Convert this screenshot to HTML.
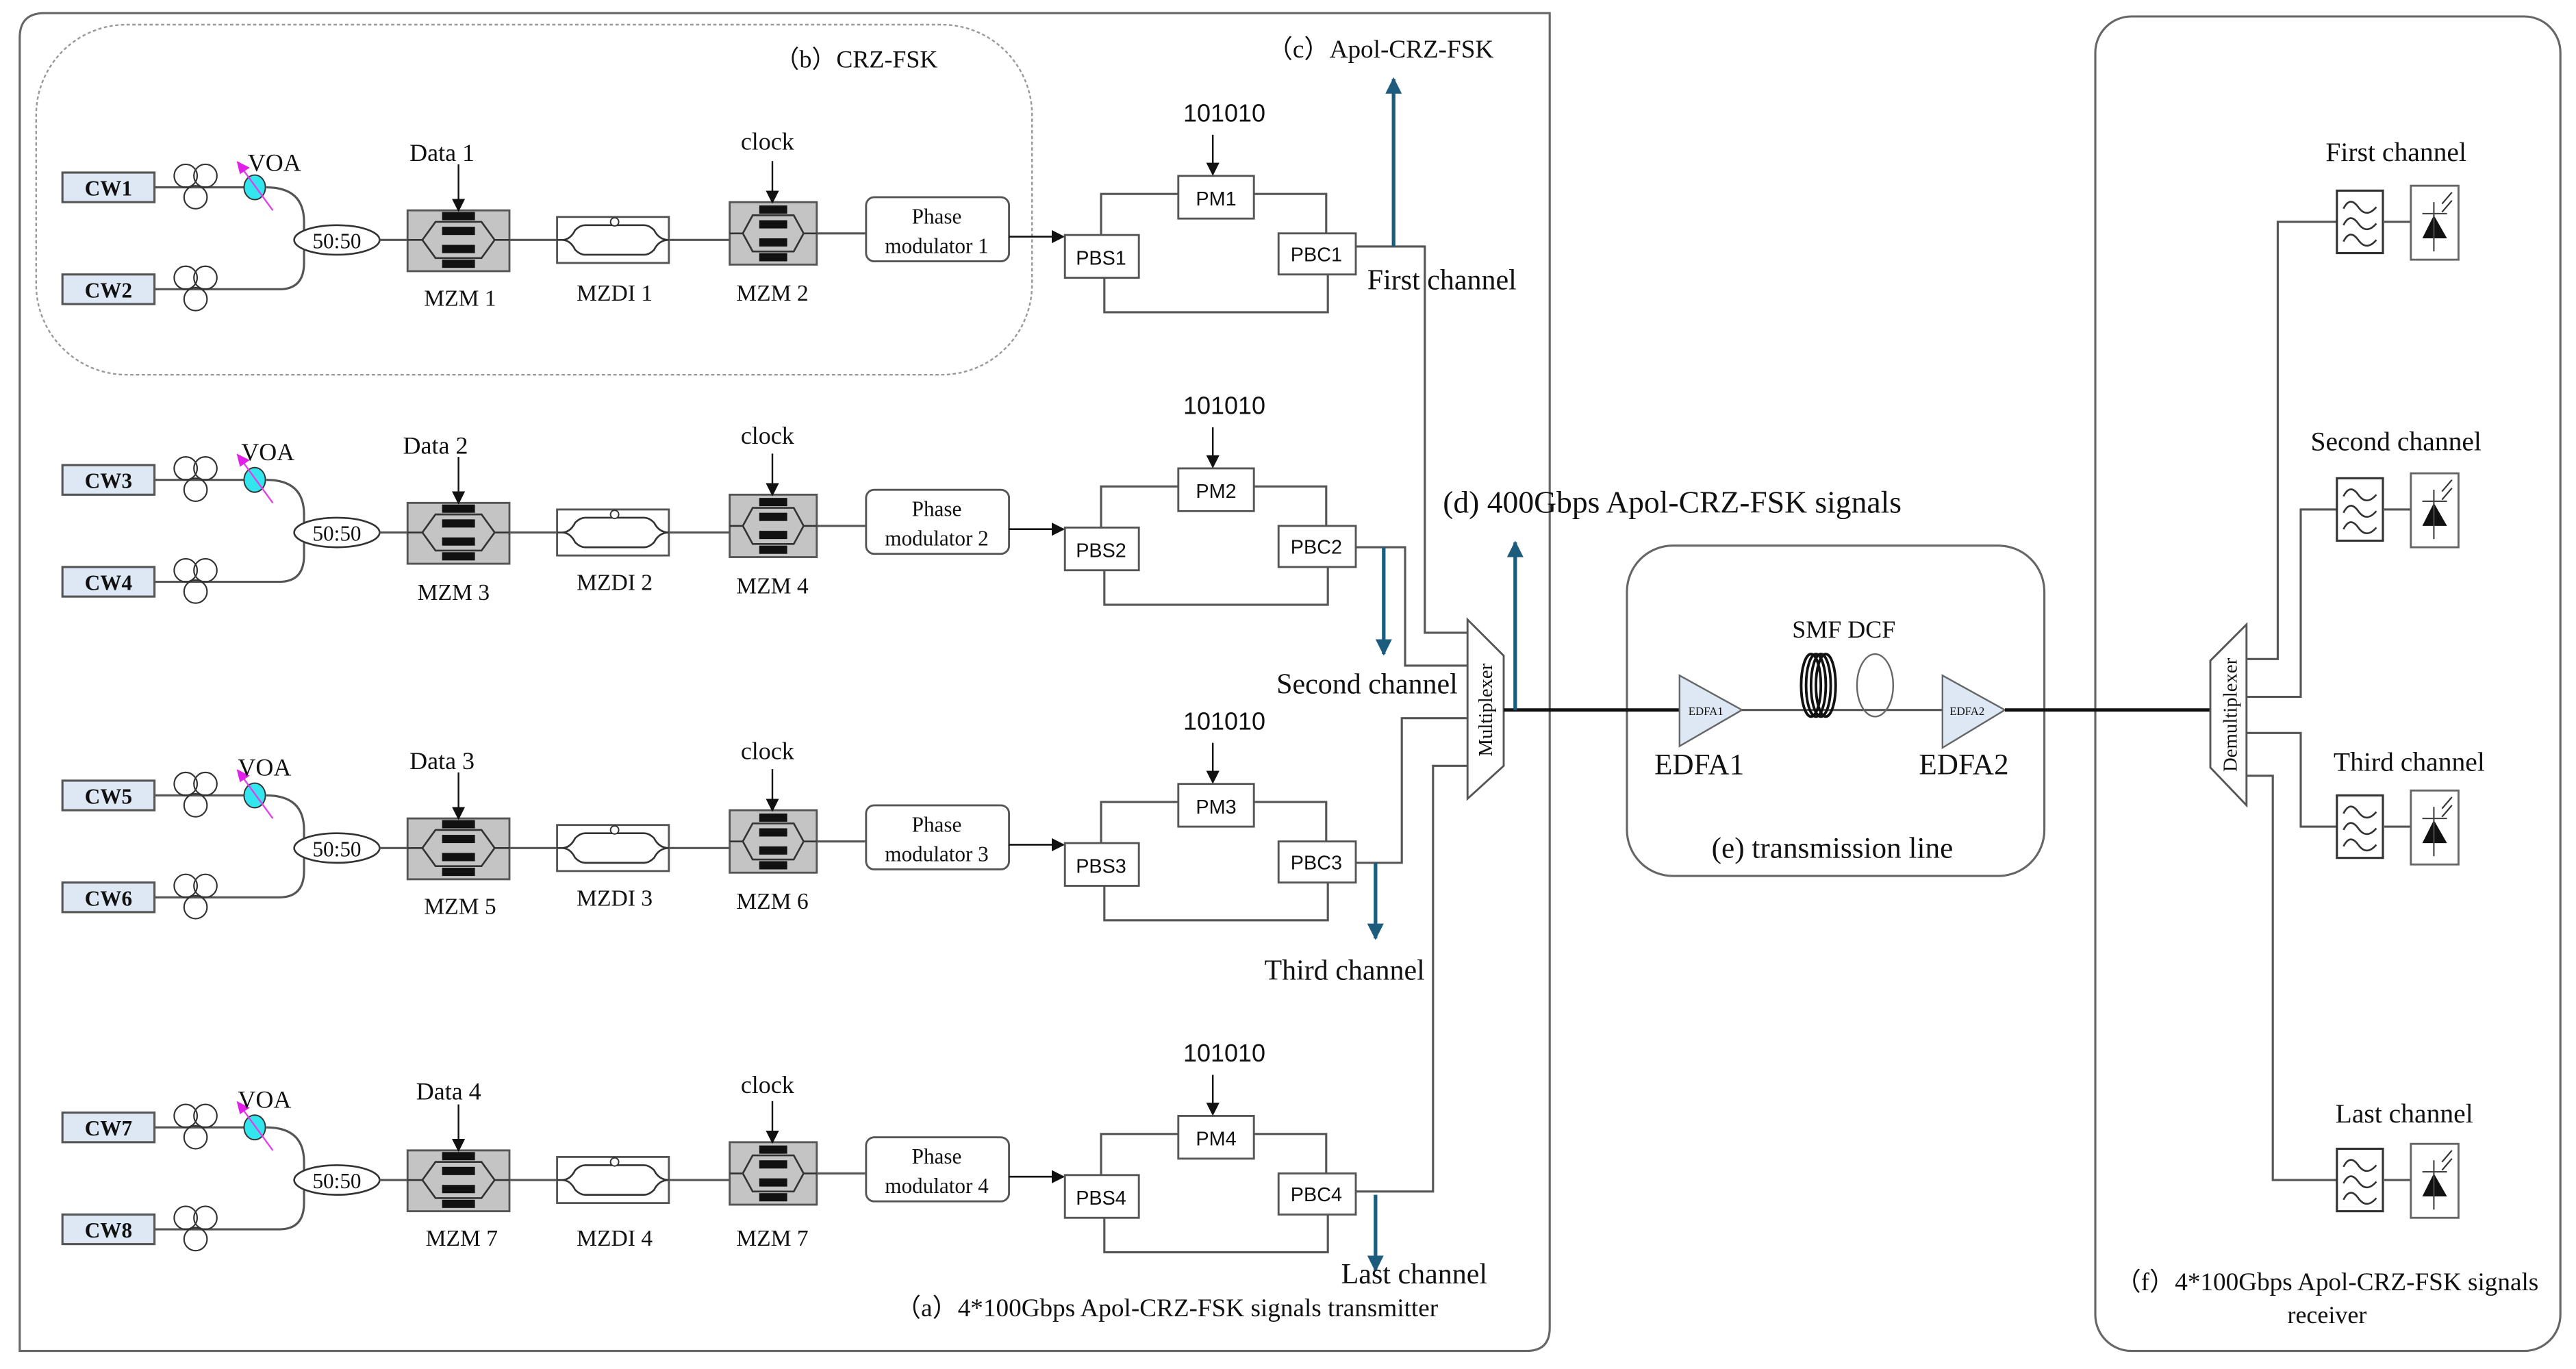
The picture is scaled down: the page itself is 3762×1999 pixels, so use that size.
<!DOCTYPE html>
<html><head><meta charset="utf-8"><style>
html,body{margin:0;padding:0;background:#fff;}
svg{display:block;}
.s{font-family:"Liberation Serif",serif;fill:#111;}
.a{font-family:"Liberation Sans",sans-serif;fill:#111;}
.ln{stroke:#555;stroke-width:1.3;fill:none;}
.bk{stroke:#333;stroke-width:1.1;fill:none;}
</style></head><body>
<svg width="3762" height="1999" viewBox="0 0 1567.5 833" preserveAspectRatio="none" xmlns="http://www.w3.org/2000/svg">
<defs>
<marker id="ah" markerWidth="8" markerHeight="8" refX="7" refY="4" orient="auto" markerUnits="userSpaceOnUse"><path d="M0,0 L8,4 L0,8 z" fill="#111"/></marker>
<marker id="bh" markerWidth="10" markerHeight="10" refX="9" refY="5" orient="auto" markerUnits="userSpaceOnUse"><path d="M0,0 L10,5 L0,10 z" fill="#1c5d7e"/></marker>
<g id="row">
  <rect x="38" y="105" width="56" height="18" fill="#dde8f4" stroke="#555" stroke-width="1.3"/>
  <rect x="38" y="167" width="56" height="18" fill="#dde8f4" stroke="#555" stroke-width="1.3"/>
  <path class="ln" d="M94,114 L150,114"/>
  <path class="ln" d="M94,176 L170,176 Q185,176 185,160 L185,135 Q185,114 162,114"/>
  <circle cx="113" cy="107" r="7" fill="none" stroke="#333" stroke-width="0.9"/>
  <circle cx="125" cy="107" r="7" fill="none" stroke="#333" stroke-width="0.9"/>
  <circle cx="119" cy="120" r="7" fill="none" stroke="#333" stroke-width="0.9"/>
  <circle cx="113" cy="169" r="7" fill="none" stroke="#333" stroke-width="0.9"/>
  <circle cx="125" cy="169" r="7" fill="none" stroke="#333" stroke-width="0.9"/>
  <circle cx="119" cy="182" r="7" fill="none" stroke="#333" stroke-width="0.9"/>
  <ellipse cx="155" cy="114" rx="6.5" ry="7.5" fill="#33e6ee" stroke="#333" stroke-width="0.8"/>
  <path d="M166,128 L147,102" stroke="#e040e8" stroke-width="1"/>
  <path d="M144,98 L152,102 L146,106 z" fill="#e020e8"/>
  <ellipse cx="205" cy="146" rx="26" ry="9" fill="#fff" stroke="#333" stroke-width="1.1"/>
  <path class="ln" d="M231,146 L248,146"/>
  <rect x="248" y="128" width="62" height="37" fill="#c4c4c4" stroke="#555" stroke-width="1.2"/>
  <path class="bk" d="M248,146 L257,146 L265,135 L293,135 L301,146 L310,146 M257,146 L265,157 L293,157 L301,146"/>
  <rect x="269" y="129" width="20" height="5" fill="#111"/><rect x="269" y="138" width="20" height="5" fill="#111"/>
  <rect x="269" y="149" width="20" height="5" fill="#111"/><rect x="269" y="158" width="20" height="5" fill="#111"/>
  <path d="M279,100 L279,128" stroke="#111" stroke-width="1" marker-end="url(#ah)"/>
  <path class="ln" d="M310,146 L339,146"/>
  <rect x="339" y="132" width="68" height="28" fill="#fff" stroke="#555" stroke-width="1.2"/>
  <path class="bk" d="M339,146 L342,146 Q347,146 350,140 Q353,137 356,137 L392,137 Q395,137 398,140 Q401,146 407,146 M342,146 Q347,146 350,152 Q353,155 356,155 L392,155 Q395,155 398,152 Q401,146 407,146"/>
  <circle cx="374" cy="135" r="2.5" fill="#fff" stroke="#333" stroke-width="0.8"/>
  <path class="ln" d="M407,146 L444,146"/>
  <rect x="444" y="123" width="53" height="38" fill="#c4c4c4" stroke="#555" stroke-width="1.2"/>
  <path class="bk" d="M444,142 L452,142 L458,131 L483,131 L489,142 L497,142 M452,142 L458,153 L483,153 L489,142"/>
  <rect x="462" y="125" width="17" height="5" fill="#111"/><rect x="462" y="134" width="17" height="5" fill="#111"/>
  <rect x="462" y="145" width="17" height="5" fill="#111"/><rect x="462" y="154" width="17" height="5" fill="#111"/>
  <path d="M470,98 L470,123" stroke="#111" stroke-width="1" marker-end="url(#ah)"/>
  <path class="ln" d="M497,142 L527,142"/>
  <rect x="527" y="120" width="87" height="39" rx="5" fill="#fff" stroke="#555" stroke-width="1.2"/>
  <text class="s" x="570" y="136" font-size="13" text-anchor="middle">Phase</text>
  <path d="M614,144 L647,144" stroke="#111" stroke-width="1.1" marker-end="url(#ah)"/>
  <path class="ln" d="M670,143 L670,118 L717,118 M763,118 L807,118 L807,142 M672,169 L672,190 L808,190 L808,167"/>
  <rect x="648" y="143" width="45" height="26" fill="#fff" stroke="#555" stroke-width="1.2"/>
  <rect x="717" y="107" width="46" height="26" fill="#fff" stroke="#555" stroke-width="1.2"/>
  <rect x="778" y="142" width="47" height="25" fill="#fff" stroke="#555" stroke-width="1.2"/>
  <text class="a" x="745" y="74" font-size="15" text-anchor="middle">101010</text>
  <path d="M738,82 L738,106" stroke="#111" stroke-width="1" marker-end="url(#ah)"/>
</g>
</defs>

<path d="M27,8 L943,8 L943,808 Q943,822 929,822 L12,822 L12,23 Q12,8 27,8 z" fill="none" stroke="#666" stroke-width="1.3"/>
<rect x="22" y="15" width="606" height="213" rx="55" fill="none" stroke="#999" stroke-width="1" stroke-dasharray="2,1.5"/>
<rect x="1275" y="10" width="283" height="812" rx="22" fill="none" stroke="#666" stroke-width="1.3"/>
<rect x="990" y="332" width="254" height="201" rx="28" fill="none" stroke="#666" stroke-width="1.3"/>

<text class="s" x="521" y="41" font-size="15" text-anchor="middle">（b）CRZ-FSK</text>
<text class="s" x="840" y="35" font-size="15.5" text-anchor="middle">（c）Apol-CRZ-FSK</text>

<g><use href="#row"/>
<text class="s" x="66" y="119" font-size="13" font-weight="bold" text-anchor="middle">CW1</text>
<text class="s" x="66" y="181" font-size="13" font-weight="bold" text-anchor="middle">CW2</text>
<text class="s" x="167" y="104" font-size="15" text-anchor="middle">VOA</text>
<text class="s" x="205" y="151" font-size="13" text-anchor="middle">50:50</text>
<text class="s" x="269" y="98" font-size="15" text-anchor="middle">Data 1</text>
<text class="s" x="280" y="186" font-size="14" text-anchor="middle">MZM 1</text>
<text class="s" x="374" y="183" font-size="14" text-anchor="middle">MZDI 1</text>
<text class="s" x="470" y="183" font-size="14" text-anchor="middle">MZM 2</text>
<text class="s" x="467" y="91" font-size="15" text-anchor="middle">clock</text>
<text class="s" x="570" y="154" font-size="13" text-anchor="middle">modulator 1</text>
<text class="a" x="670" y="161" font-size="12" text-anchor="middle">PBS1</text>
<text class="a" x="740" y="125" font-size="12" text-anchor="middle">PM1</text>
<text class="a" x="801" y="159" font-size="12" text-anchor="middle">PBC1</text>
</g>
<g transform="translate(0,178)"><use href="#row"/>
<text class="s" x="66" y="119" font-size="13" font-weight="bold" text-anchor="middle">CW3</text>
<text class="s" x="66" y="181" font-size="13" font-weight="bold" text-anchor="middle">CW4</text>
<text class="s" x="163" y="102" font-size="15" text-anchor="middle">VOA</text>
<text class="s" x="205" y="151" font-size="13" text-anchor="middle">50:50</text>
<text class="s" x="265" y="98" font-size="15" text-anchor="middle">Data 2</text>
<text class="s" x="276" y="187" font-size="14" text-anchor="middle">MZM 3</text>
<text class="s" x="374" y="181" font-size="14" text-anchor="middle">MZDI 2</text>
<text class="s" x="470" y="183" font-size="14" text-anchor="middle">MZM 4</text>
<text class="s" x="467" y="92" font-size="15" text-anchor="middle">clock</text>
<text class="s" x="570" y="154" font-size="13" text-anchor="middle">modulator 2</text>
<text class="a" x="670" y="161" font-size="12" text-anchor="middle">PBS2</text>
<text class="a" x="740" y="125" font-size="12" text-anchor="middle">PM2</text>
<text class="a" x="801" y="159" font-size="12" text-anchor="middle">PBC2</text>
</g>
<g transform="translate(0,370)"><use href="#row"/>
<text class="s" x="66" y="119" font-size="13" font-weight="bold" text-anchor="middle">CW5</text>
<text class="s" x="66" y="181" font-size="13" font-weight="bold" text-anchor="middle">CW6</text>
<text class="s" x="161" y="102" font-size="15" text-anchor="middle">VOA</text>
<text class="s" x="205" y="151" font-size="13" text-anchor="middle">50:50</text>
<text class="s" x="269" y="98" font-size="15" text-anchor="middle">Data 3</text>
<text class="s" x="280" y="186" font-size="14" text-anchor="middle">MZM 5</text>
<text class="s" x="374" y="181" font-size="14" text-anchor="middle">MZDI 3</text>
<text class="s" x="470" y="183" font-size="14" text-anchor="middle">MZM 6</text>
<text class="s" x="467" y="92" font-size="15" text-anchor="middle">clock</text>
<text class="s" x="570" y="154" font-size="13" text-anchor="middle">modulator 3</text>
<text class="a" x="670" y="161" font-size="12" text-anchor="middle">PBS3</text>
<text class="a" x="740" y="125" font-size="12" text-anchor="middle">PM3</text>
<text class="a" x="801" y="159" font-size="12" text-anchor="middle">PBC3</text>
</g>
<g transform="translate(0,572)"><use href="#row"/>
<text class="s" x="66" y="119" font-size="13" font-weight="bold" text-anchor="middle">CW7</text>
<text class="s" x="66" y="181" font-size="13" font-weight="bold" text-anchor="middle">CW8</text>
<text class="s" x="161" y="102" font-size="15" text-anchor="middle">VOA</text>
<text class="s" x="205" y="151" font-size="13" text-anchor="middle">50:50</text>
<text class="s" x="273" y="97" font-size="15" text-anchor="middle">Data 4</text>
<text class="s" x="281" y="186" font-size="14" text-anchor="middle">MZM 7</text>
<text class="s" x="374" y="186" font-size="14" text-anchor="middle">MZDI 4</text>
<text class="s" x="470" y="186" font-size="14" text-anchor="middle">MZM 7</text>
<text class="s" x="467" y="93" font-size="15" text-anchor="middle">clock</text>
<text class="s" x="570" y="154" font-size="13" text-anchor="middle">modulator 4</text>
<text class="a" x="670" y="161" font-size="12" text-anchor="middle">PBS4</text>
<text class="a" x="740" y="125" font-size="12" text-anchor="middle">PM4</text>
<text class="a" x="801" y="159" font-size="12" text-anchor="middle">PBC4</text>
</g>

<path class="ln" d="M825,150 L867,150 L867,385 L893,385"/>
<path class="ln" d="M825,333 L855,333 L855,405 L893,405"/>
<path class="ln" d="M825,525 L853,525 L853,437 L893,437"/>
<path class="ln" d="M825,725 L872,725 L872,466 L893,466"/>
<path d="M848,150 L848,48" stroke="#1c5d7e" stroke-width="2.2" marker-end="url(#bh)"/>
<path d="M842,333 L842,398" stroke="#1c5d7e" stroke-width="2.2" marker-end="url(#bh)"/>
<path d="M837,525 L837,571" stroke="#1c5d7e" stroke-width="2.2" marker-end="url(#bh)"/>
<path d="M837,727 L837,773" stroke="#1c5d7e" stroke-width="2.2" marker-end="url(#bh)"/>
<text class="s" x="832" y="176" font-size="17.5">First channel</text>
<text class="s" x="887" y="422" font-size="17.5" text-anchor="end">Second channel</text>
<text class="s" x="867" y="596" font-size="17.5" text-anchor="end">Third channel</text>
<text class="s" x="905" y="781" font-size="17.5" text-anchor="end">Last channel</text>
<text class="s" x="710" y="801" font-size="15.5" text-anchor="middle">（a）4*100Gbps Apol-CRZ-FSK signals transmitter</text>

<path d="M893,377 L915,399 L915,466 L893,486 z" fill="#fff" stroke="#555" stroke-width="1.2"/>
<text class="s" transform="translate(908,432) rotate(-90)" font-size="12" text-anchor="middle">Multiplexer</text>
<path d="M915,432 L1022,432" stroke="#111" stroke-width="2"/>
<path d="M922,432 L922,330" stroke="#1c5d7e" stroke-width="2.2" marker-end="url(#bh)"/>
<text class="s" x="878" y="312" font-size="19">(d) 400Gbps Apol-CRZ-FSK signals</text>

<path d="M1022,411 L1060,432 L1022,454 z" fill="#dde8f4" stroke="#666" stroke-width="1"/>
<text class="s" x="1038" y="435" font-size="7" text-anchor="middle">EDFA1</text>
<path class="ln" d="M1060,432 L1182,432" stroke-width="1"/>
<g fill="none" stroke="#111" stroke-width="1.6">
<ellipse cx="1102" cy="417" rx="6" ry="19"/><ellipse cx="1105" cy="417" rx="6" ry="19"/><ellipse cx="1108" cy="417" rx="6" ry="19"/><ellipse cx="1111" cy="417" rx="6" ry="19"/>
</g>
<ellipse cx="1141" cy="417" rx="11" ry="19" fill="none" stroke="#666" stroke-width="1"/>
<path d="M1182,411 L1220,432 L1182,455 z" fill="#dde8f4" stroke="#666" stroke-width="1"/>
<text class="s" x="1197" y="435" font-size="7" text-anchor="middle">EDFA2</text>
<text class="s" x="1122" y="388" font-size="15" text-anchor="middle">SMF DCF</text>
<text class="s" x="1034" y="471" font-size="18" text-anchor="middle">EDFA1</text>
<text class="s" x="1195" y="471" font-size="18" text-anchor="middle">EDFA2</text>
<text class="s" x="1115" y="522" font-size="18" text-anchor="middle">(e) transmission line</text>
<path d="M1220,432 L1345,432" stroke="#111" stroke-width="2"/>

<path d="M1345,402 L1367,380 L1367,490 L1345,467 z" fill="#fff" stroke="#555" stroke-width="1.2"/>
<text class="s" transform="translate(1361,435) rotate(-90)" font-size="12" text-anchor="middle">Demultiplexer</text>
<path class="ln" d="M1367,401 L1386,401 L1386,135 L1422,135"/>
<path class="ln" d="M1367,424 L1400,424 L1400,310 L1422,310"/>
<path class="ln" d="M1367,446 L1400,446 L1400,503 L1422,503"/>
<path class="ln" d="M1367,472 L1383,472 L1383,718 L1422,718"/>

<g id="rx1" transform="translate(0,135)">
  <rect x="1422" y="-19" width="28" height="38" fill="#fff" stroke="#333" stroke-width="1.3"/>
  <path class="bk" d="M1426,-8 Q1430,-16 1435,-9 Q1440,-2 1446,-9 M1426,2 Q1430,-6 1435,1 Q1440,8 1446,1 M1426,12 Q1430,4 1435,11 Q1440,18 1446,11"/>
  <path class="ln" d="M1450,0 L1467,0"/>
  <rect x="1467" y="-22" width="29" height="45" fill="#fff" stroke="#666" stroke-width="1.2"/>
  <path d="M1474,10 L1481,-4 L1489,10 z" fill="#111"/>
  <path d="M1474,-5 L1489,-5 M1481,-12 L1481,18" stroke="#444" stroke-width="0.9"/>
  <path d="M1492,-18 L1486,-11 M1492,-13 L1486,-6" stroke="#333" stroke-width="0.9"/>
</g>
<use href="#rx1" transform="translate(0,175)"/>
<use href="#rx1" transform="translate(0,368)"/>
<use href="#rx1" transform="translate(0,583)"/>
<text class="s" x="1458" y="98" font-size="16.5" text-anchor="middle">First channel</text>
<text class="s" x="1458" y="274" font-size="16.5" text-anchor="middle">Second channel</text>
<text class="s" x="1466" y="469" font-size="16.5" text-anchor="middle">Third channel</text>
<text class="s" x="1463" y="683" font-size="16.5" text-anchor="middle">Last channel</text>
<text class="s" x="1416" y="785" font-size="15.5" text-anchor="middle">（f）4*100Gbps Apol-CRZ-FSK signals</text>
<text class="s" x="1416" y="805" font-size="15" text-anchor="middle">receiver</text>
</svg>
</body></html>
